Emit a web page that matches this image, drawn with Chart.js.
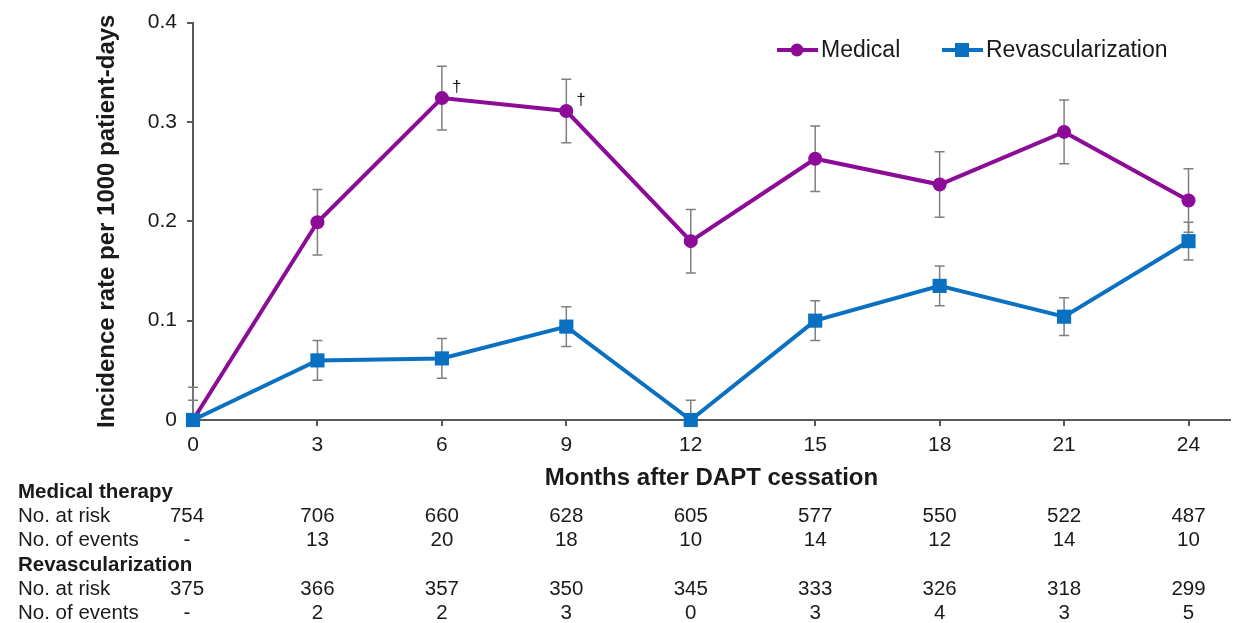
<!DOCTYPE html>
<html>
<head>
<meta charset="utf-8">
<script src="https://cdn.jsdelivr.net/npm/chart.js@4.4.1/dist/chart.umd.min.js"></script>
<style>
  html, body { margin: 0; padding: 0; background: #fff; }
  #wrap { width: 1240px; height: 623px; position: relative; }
</style>
</head>
<body>
<div id="wrap"><canvas id="rateChart"></canvas></div>
<script>
// ── Data ───────────────────────────────────────────
const months = [0, 3, 6, 9, 12, 15, 18, 21, 24];
const yTicks = [0, 0.1, 0.2, 0.3, 0.4];

const medicalRate = [0, 0.199, 0.324, 0.311, 0.180, 0.263, 0.237, 0.290, 0.221];
const medicalErr  = [0.033, 0.033, 0.032, 0.032, 0.032, 0.033, 0.033, 0.032, 0.032];
const revascRate  = [0, 0.060, 0.062, 0.094, 0, 0.100, 0.135, 0.104, 0.180];
const revascErr   = [0.020, 0.020, 0.020, 0.020, 0.020, 0.020, 0.020, 0.019, 0.019];

const daggerMonths = [6, 9];

const medAtRisk  = ['754', '706', '660', '628', '605', '577', '550', '522', '487'];
const medEvents  = ['-', '13', '20', '18', '10', '14', '12', '14', '10'];
const revAtRisk  = ['375', '366', '357', '350', '345', '333', '326', '318', '299'];
const revEvents  = ['-', '2', '2', '3', '0', '3', '4', '3', '5'];

const PURPLE = '#8c0c97';
const BLUE = '#0a70c2';
const AXIS = '#595959';
const TEXT = '#1a1a1a';
const FONT = "'Liberation Sans', Arial, sans-serif";

const toPoints = vals => months.map((m, i) => ({ x: m, y: vals[i] }));

// ── Error bars, daggers, legend, risk table ────────
const extras = {
    id: 'extras',
    beforeDatasetsDraw(chart) {
        const { ctx, chartArea, scales: { x, y } } = chart;
        ctx.save();
        ctx.beginPath();
        ctx.rect(chartArea.left - 10, chartArea.top - 10, chartArea.width + 20, chartArea.height + 10);
        ctx.clip();
        ctx.strokeStyle = '#7f7f7f';
        ctx.lineWidth = 1.5;
        [[medicalRate, medicalErr], [revascRate, revascErr]].forEach(([vals, errs]) => {
            months.forEach((m, i) => {
                const px = x.getPixelForValue(m);
                const top = y.getPixelForValue(vals[i] + errs[i]);
                const bot = y.getPixelForValue(vals[i] - errs[i]);
                ctx.beginPath();
                ctx.moveTo(px, top); ctx.lineTo(px, bot);
                ctx.moveTo(px - 5, top); ctx.lineTo(px + 5, top);
                ctx.moveTo(px - 5, bot); ctx.lineTo(px + 5, bot);
                ctx.stroke();
            });
        });
        ctx.restore();
    },
    afterDraw(chart) {
        const { ctx, chartArea, scales: { x, y } } = chart;
        ctx.save();
        ctx.fillStyle = TEXT;

        // daggers
        ctx.font = '17px ' + FONT;
        ctx.textAlign = 'left';
        ctx.textBaseline = 'middle';
        daggerMonths.forEach(m => {
            const i = months.indexOf(m);
            ctx.fillText('\u2020', x.getPixelForValue(m) + 10, y.getPixelForValue(medicalRate[i]) - 11);
        });

        // legend
        const legendY = 50;
        const items = [
            { label: 'Medical', color: PURPLE, style: 'circle', x0: 777 },
            { label: 'Revascularization', color: BLUE, style: 'rect', x0: 942 }
        ];
        ctx.font = '23px ' + FONT;
        items.forEach(it => {
            ctx.strokeStyle = it.color;
            ctx.fillStyle = it.color;
            ctx.lineWidth = 4;
            ctx.beginPath();
            ctx.moveTo(it.x0, legendY); ctx.lineTo(it.x0 + 41, legendY);
            ctx.stroke();
            const cx = it.x0 + 20;
            ctx.beginPath();
            if (it.style === 'circle') ctx.arc(cx, legendY, 6.5, 0, Math.PI * 2);
            else ctx.rect(cx - 7, legendY - 7, 14, 14);
            ctx.fill();
            ctx.fillStyle = TEXT;
            ctx.fillText(it.label, it.x0 + 44, legendY + 1);
        });

        // x title
        ctx.font = 'bold 24px ' + FONT;
        ctx.textAlign = 'center';
        ctx.fillText('Months after DAPT cessation', (chartArea.left + chartArea.right) / 2, 478);

        // risk table
        const rows = [
            { label: 'Medical therapy', bold: true, y: 492 },
            { label: 'No. at risk', vals: medAtRisk, y: 516 },
            { label: 'No. of events', vals: medEvents, y: 540 },
            { label: 'Revascularization', bold: true, y: 565 },
            { label: 'No. at risk', vals: revAtRisk, y: 589 },
            { label: 'No. of events', vals: revEvents, y: 613 }
        ];
        rows.forEach(r => {
            ctx.font = (r.bold ? 'bold ' : '') + '20.5px ' + FONT;
            ctx.textAlign = 'left';
            ctx.fillText(r.label, 18, r.y);
            if (r.vals) {
                ctx.textAlign = 'center';
                r.vals.forEach((v, i) => {
                    const dx = i === 0 ? -6 : 0;
                    ctx.fillText(v, x.getPixelForValue(months[i]) + dx, r.y);
                });
            }
        });
        ctx.restore();
    }
};

new Chart(document.getElementById('rateChart'), {
    type: 'line',
    data: {
        datasets: [
            {
                label: 'Revascularization',
                data: toPoints(revascRate),
                borderColor: BLUE,
                backgroundColor: BLUE,
                borderWidth: 4,
                pointStyle: 'rect',
                pointRadius: 10,
                pointBorderWidth: 0,
                tension: 0,
                clip: false,
                order: 0,
            },
            {
                label: 'Medical',
                data: toPoints(medicalRate),
                borderColor: PURPLE,
                backgroundColor: PURPLE,
                borderWidth: 4,
                pointStyle: 'circle',
                pointRadius: 7,
                pointBorderWidth: 0,
                tension: 0,
                clip: false,
                order: 1,
            }
        ]
    },
    options: {
        responsive: true,
        maintainAspectRatio: false,
        animation: false,
        layout: { padding: { left: 93, top: 20, right: 4, bottom: 0 } },
        plugins: {
            legend: { display: false },
            tooltip: { enabled: false }
        },
        scales: {
            x: {
                type: 'linear',
                min: 0,
                max: 25,
                afterBuildTicks: s => { s.ticks = months.map(v => ({ value: v })); },
                afterFit: s => { s.height = 203; },
                grid: { drawOnChartArea: false, drawTicks: true, tickLength: 6, color: AXIS, lineWidth: 2 },
                border: { color: AXIS, width: 2 },
                ticks: { color: TEXT, font: { family: FONT, size: 21 }, padding: 7, maxRotation: 0 }
            },
            y: {
                min: 0,
                max: 0.4,
                afterBuildTicks: s => { s.ticks = yTicks.map(v => ({ value: v })); },
                afterFit: s => { s.width = 100; },
                grid: { drawOnChartArea: false, drawTicks: true, tickLength: 6, color: AXIS, lineWidth: 2 },
                border: { color: AXIS, width: 2 },
                ticks: {
                    color: TEXT,
                    font: { family: FONT, size: 21 },
                    padding: 10,
                    callback: v => String(+v.toFixed(1))
                },
                title: {
                    display: true,
                    text: 'Incidence rate per 1000 patient-days',
                    color: TEXT,
                    font: { family: FONT, size: 24, weight: 'bold' },
                    padding: { top: 0, bottom: 0 }
                }
            }
        }
    },
    plugins: [extras]
});
</script>
</body>
</html>
